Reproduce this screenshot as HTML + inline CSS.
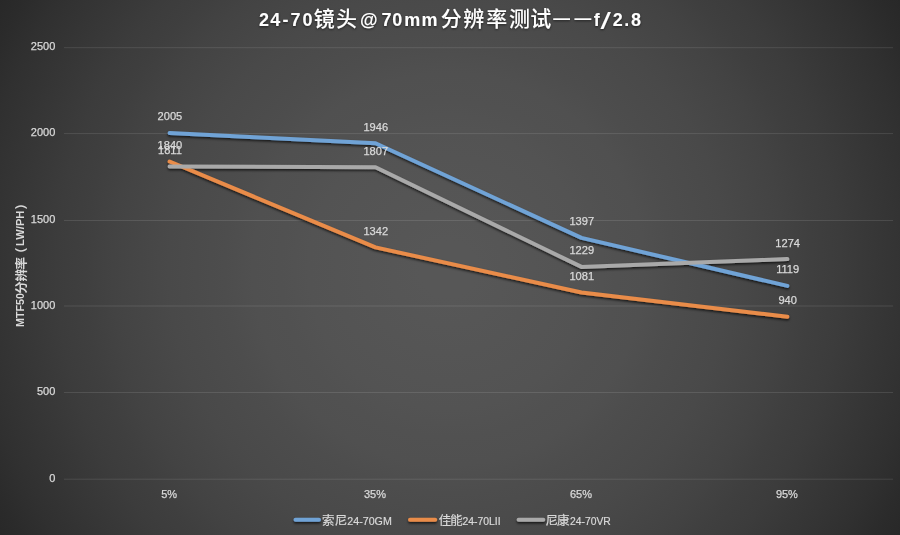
<!DOCTYPE html>
<html><head><meta charset="utf-8"><title>24-70镜头@70mm分辨率测试</title><style>
html,body{margin:0;padding:0;width:900px;height:535px;overflow:hidden}
body{background:radial-gradient(circle 559px at 448.5px 269.2px, #575757 0px, #575757 28px, #565656 56px, #555555 84px, #545454 112px, #535353 140px, #515151 168px, #505050 196px, #4d4d4d 224px, #4b4b4b 252px, #494949 280px, #464646 308px, #434343 336px, #3f3f3f 364px, #3c3c3c 392px, #383838 419px, #343434 447px, #303030 475px, #2b2b2b 503px, #272727 531px, #222222 559px);position:relative;font-family:"Liberation Sans","Noto Sans CJK SC",sans-serif}
svg{position:absolute;left:0;top:0;will-change:transform}
</style></head><body>
<svg width="900" height="535" viewBox="0 0 900 535">
<defs>
<filter id="sh" filterUnits="userSpaceOnUse" x="0" y="0" width="900" height="535"><feDropShadow dx="0" dy="1.6" stdDeviation="0.9" flood-color="#000" flood-opacity="0.7"/></filter>
<filter id="ts" filterUnits="userSpaceOnUse" x="0" y="0" width="900" height="535"><feDropShadow dx="0" dy="1" stdDeviation="1.2" flood-color="#000" flood-opacity="0.55"/></filter>
</defs>
<g stroke="#ffffff" stroke-opacity="0.11" stroke-width="1">
<line x1="64" y1="47.7" x2="893" y2="47.7"/>
<line x1="64" y1="133.6" x2="893" y2="133.6"/>
<line x1="64" y1="220.5" x2="893" y2="220.5"/>
<line x1="64" y1="306.0" x2="893" y2="306.0"/>
<line x1="64" y1="392.5" x2="893" y2="392.5"/>
<line x1="64" y1="479.2" x2="893" y2="479.2"/>
</g>
<g fill="#ffffff" filter="url(#ts)"><text y="26" font-family="'Liberation Sans','Noto Sans CJK SC',sans-serif" font-size="18" font-weight="bold"><tspan x="259 270.2 282.4 290.4 302.4">24-70</tspan><tspan x="313.8 336.1" font-size="21" font-weight="500">镜头</tspan><tspan x="360.1 381.4 392.2 404.2 421.5">@70mm</tspan><tspan x="440.7 463.2 486.2 508.9 530.3" font-size="21" font-weight="500">分辨率测试</tspan><tspan x="553.3 574.4" y="24.4 24.4" font-size="16.8">——</tspan><tspan x="593.8" y="26">f</tspan><tspan x="600.4" y="29" font-size="24" font-weight="normal" textLength="10.4" lengthAdjust="spacingAndGlyphs">/</tspan><tspan x="612.8 624.2 631.1" y="26 26 26">2.8</tspan></text></g>
<g font-family="'Liberation Sans','Noto Sans CJK SC',sans-serif" font-size="11" fill="#d9d9d9" stroke="#d9d9d9" stroke-width="0.25" text-anchor="end">
<text x="55.3" y="50.3">2500</text>
<text x="55.3" y="136.2">2000</text>
<text x="55.3" y="223.1">1500</text>
<text x="55.3" y="308.6">1000</text>
<text x="55.3" y="395.1">500</text>
<text x="55.3" y="481.8">0</text>
</g>
<g fill="#d9d9d9" font-weight="bold" transform="translate(24.4,326.2) rotate(-90)"><text y="0" font-family="'Liberation Sans','Noto Sans CJK SC',sans-serif" font-size="11"><tspan x="-0.7" y="0" textLength="33.9" lengthAdjust="spacingAndGlyphs">MTF50</tspan><tspan x="32.4 44.6 56.6 66.2" y="1.4 1.4 1.4 1.4" font-size="12.5">分辨率（</tspan><tspan x="80.3" y="0" textLength="35.25" lengthAdjust="spacingAndGlyphs">LW/PH</tspan><tspan x="116.6" y="1.4" font-size="12.5">）</tspan></text></g>
<g font-family="'Liberation Sans','Noto Sans CJK SC',sans-serif" font-size="11" fill="#d9d9d9" stroke="#d9d9d9" stroke-width="0.25" text-anchor="middle">
<text x="169.1" y="497.6">5%</text>
<text x="375.0" y="497.6">35%</text>
<text x="581.0" y="497.6">65%</text>
<text x="786.9" y="497.6">95%</text>
</g>
<g fill="none" stroke-width="4" stroke-linecap="round" stroke-linejoin="round" filter="url(#sh)">
<polyline stroke="#70a3d6" points="169.6,133.0 375.5,143.2 581.5,237.9 787.4,285.9"/>
<polyline stroke="#e98c4a" points="169.6,161.5 375.5,247.4 581.5,292.5 787.4,316.8"/>
<polyline stroke="#a9a9a9" points="169.6,166.5 375.5,167.2 581.5,266.9 787.4,259.1"/>
</g>
<g font-family="'Liberation Sans','Noto Sans CJK SC',sans-serif" font-size="11.1" fill="#d9d9d9" stroke="#d9d9d9" stroke-width="0.25" text-anchor="middle">
<text x="169.9" y="120.4">2005</text>
<text x="375.8" y="130.6">1946</text>
<text x="581.8" y="225.3">1397</text>
<text x="787.7" y="273.3">1119</text>
<text x="169.9" y="148.9">1840</text>
<text x="375.8" y="234.8">1342</text>
<text x="581.8" y="279.9">1081</text>
<text x="787.7" y="304.2">940</text>
<text x="169.9" y="153.9">1811</text>
<text x="375.8" y="154.6">1807</text>
<text x="581.8" y="254.3">1229</text>
<text x="787.7" y="246.5">1274</text>
</g>
<g stroke-width="4" stroke-linecap="round" filter="url(#sh)">
<line x1="295.5" y1="519.7" x2="319" y2="519.7" stroke="#70a3d6"/>
<line x1="410" y1="519.7" x2="435.2" y2="519.7" stroke="#e98c4a"/>
<line x1="518.6" y1="519.7" x2="543.3" y2="519.7" stroke="#a9a9a9"/>
</g>
<g fill="#d9d9d9" stroke="#d9d9d9" stroke-width="0.2" font-size="11">
<text y="525" font-family="'Liberation Sans','Noto Sans CJK SC',sans-serif"><tspan x="321.9 334.8" font-size="12.5">索尼</tspan><tspan x="347.3" textLength="44.5" lengthAdjust="spacingAndGlyphs">24-70GM</tspan></text>
<text y="525" font-family="'Liberation Sans','Noto Sans CJK SC',sans-serif"><tspan x="438.8 450.3" font-size="12.5">佳能</tspan><tspan x="462.4" textLength="38.2" lengthAdjust="spacingAndGlyphs">24-70LII</tspan></text>
<text y="525" font-family="'Liberation Sans','Noto Sans CJK SC',sans-serif"><tspan x="545.4 557" font-size="12.5">尼康</tspan><tspan x="570" textLength="40.8" lengthAdjust="spacingAndGlyphs">24-70VR</tspan></text>
</g>
</svg>
</body></html>
